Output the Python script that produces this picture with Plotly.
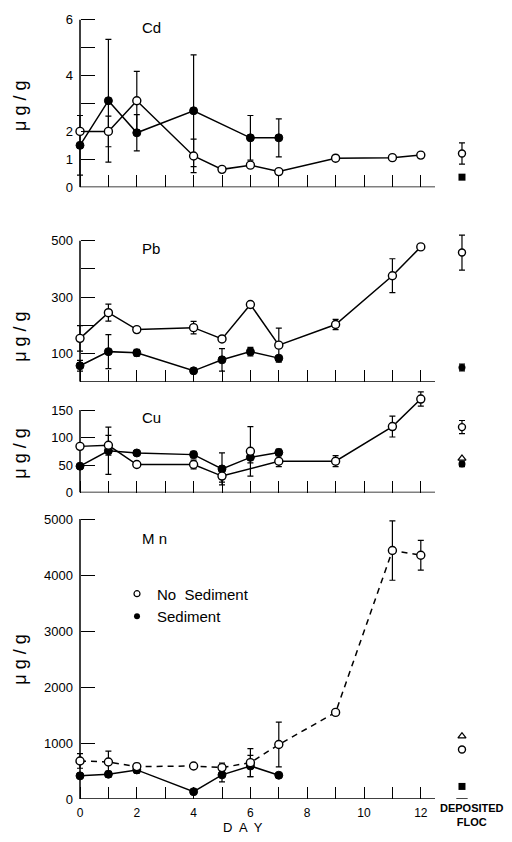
import plotly.graph_objects as go

# ---------------- data ----------------
days_open = [0, 1, 2, 4, 5, 6, 7, 9, 11, 12]
days_sed = [0, 1, 2, 4, 5, 6, 7]
days_sed_cd = [0, 1, 2, 4, 6, 7]

cd_open = [2.0, 2.0, 3.1, 1.12, 0.64, 0.79, 0.56, 1.04, 1.06, 1.15]
cd_open_err = [0, 0.55, 1.05, 0.6, 0, 0, 0, 0, 0, 0]
cd_sed = [1.5, 3.1, 1.95, 2.74, 1.77, 1.77]
cd_sed_err = [1.07, 2.2, 0.65, 2.0, 0.8, 0.68]

pb_open = [154, 245, 185, 192, 152, 274, 130, 203, 376, 478]
pb_open_err = [45, 30, 0, 22, 0, 8, 60, 18, 60, 0]
pb_sed = [57, 107, 103, 39, 78, 107, 84]
pb_sed_err = [19, 60, 12, 0, 40, 15, 8]

cu_open = [84, 86, 51, 51, 30, 75, 57, 57, 120, 170]
cu_open_err = [0, 18, 0, 8, 11, 45, 10, 10, 19, 13]
cu_sed = [48, 76, 72, 69, 43, 64, 73]
cu_sed_err = [0, 43, 0, 6, 29, 10, 6]

mn_open = [680, 662, 579, 590, 561, 650, 973, 1547, 4437, 4354]
mn_open_err = [130, 195, 60, 40, 80, 250, 400, 0, 530, 265]
mn_sed = [414, 443, 520, 131, 432, 590, 425]
mn_sed_err = [40, 50, 60, 0, 125, 190, 0]

# deposited floc values per metal (Cd, Pb, Cu, Mn)
floc_open = [1.21, 458, 119, 885]
floc_open_err = [0.38, 62, 12, 0]
floc_sed = [0.36, 51, 52, 225]
floc_sed_err = [0, 12, 5, 0]
floc_tri = [None, None, 62, 1122]
floc_sed_symbol = ["square", "circle", "circle", "square"]

metals = ["Cd", "Pb", "Cu", "Mn"]
x_ticks = list(range(13))
x_ticktext = ["0", "", "2", "", "4", "", "6", "", "8", "", "10", "", "12"]
y_tickvals = [[0, 1, 2, 3, 4, 5, 6], [0, 100, 200, 300, 400, 500], [0, 50, 100, 150],
              [0, 1000, 2000, 3000, 4000, 5000]]
y_ticktext = [["0", "1", "2", "", "4", "", "6"], ["", "100", "", "300", "", "500"],
              ["0", "50", "100", "150"], ["0", "1000", "2000", "3000", "4000", "5000"]]

# ---------------- layout geometry ----------------
W, H = 512, 842
X0PX, PXDAY = 80.0, 28.4
xr = [-X0PX / PXDAY, (W - X0PX) / PXDAY]
FLOC_X = 13.45
# (pixel of y=0, pixel of top tick, top tick value, range top)
panels = [(189.0, 20.0, 6, 6.3), (385.5, 243.0, 500, 540), (497.3, 414.0, 150, 185),
          (806.7, 524.0, 5000, 5200)]

FONT = "Liberation Sans, Arial, sans-serif"
fig = go.Figure()
shapes = []
annotations = []

series = [
    (days_open, cd_open, cd_open_err, days_sed_cd, cd_sed, cd_sed_err),
    (days_open, pb_open, pb_open_err, days_sed, pb_sed, pb_sed_err),
    (days_open, cu_open, cu_open_err, days_sed, cu_sed, cu_sed_err),
    (days_open, mn_open, mn_open_err, days_sed, mn_sed, mn_sed_err),
]


def eb(arr):
    return dict(type="data", array=arr, visible=True, color="black", thickness=1.2, width=3)


for i, (dox, oy, oe, dsx, sy, se) in enumerate(series):
    k = "" if i == 0 else str(i + 1)
    xa, ya = "x" + k, "y" + k
    open_dash = "6px,5px" if metals[i] == "Mn" else "solid"
    # sediment (filled) series
    fig.add_trace(go.Scatter(
        x=dsx, y=sy, xaxis=xa, yaxis=ya, mode="lines+markers", showlegend=False,
        line=dict(color="black", width=1.5), cliponaxis=False,
        marker=dict(symbol="circle", size=8, color="black", line=dict(color="black", width=1)),
        error_y=eb(se)))
    # no-sediment (open) series
    if metals[i] == "Cu":
        line_y = [None if d == 6 else v for d, v in zip(dox, oy)]
        fig.add_trace(go.Scatter(
            x=dox, y=line_y, xaxis=xa, yaxis=ya, mode="lines", connectgaps=True,
            showlegend=False, line=dict(color="black", width=1.5)))
        fig.add_trace(go.Scatter(
            x=dox, y=oy, xaxis=xa, yaxis=ya, mode="markers", showlegend=False,
            cliponaxis=False,
            marker=dict(symbol="circle", size=8, color="white", line=dict(color="black", width=1.4)),
            error_y=eb(oe)))
    else:
        fig.add_trace(go.Scatter(
            x=dox, y=oy, xaxis=xa, yaxis=ya, mode="lines+markers", showlegend=False,
            line=dict(color="black", width=1.5, dash=open_dash), cliponaxis=False,
            marker=dict(symbol="circle", size=8, color="white", line=dict(color="black", width=1.4)),
            error_y=eb(oe)))
    # deposited floc column
    fig.add_trace(go.Scatter(
        x=[FLOC_X], y=[floc_sed[i]], xaxis=xa, yaxis=ya, mode="markers", showlegend=False,
        cliponaxis=False,
        marker=dict(symbol=floc_sed_symbol[i], size=7, color="black"),
        error_y=eb([floc_sed_err[i]])))
    if floc_tri[i] is not None:
        fig.add_trace(go.Scatter(
            x=[FLOC_X], y=[floc_tri[i]], xaxis=xa, yaxis=ya, mode="markers", showlegend=False,
            cliponaxis=False,
            marker=dict(symbol="triangle-up", size=7, color="white", line=dict(color="black", width=1.3))))
    fig.add_trace(go.Scatter(
        x=[FLOC_X], y=[floc_open[i]], xaxis=xa, yaxis=ya, mode="markers", showlegend=False,
        cliponaxis=False,
        marker=dict(symbol="circle", size=7, color="white", line=dict(color="black", width=1.4)),
        error_y=eb([floc_open_err[i]])))

    p0, ptop, vtop, rtop = panels[i]
    pxu = (p0 - ptop) / vtop
    dom_top_px = p0 - rtop * pxu
    dom = [1 - p0 / H, 1 - dom_top_px / H]
    fig.layout["xaxis" + k] = dict(
        domain=[0, 1], range=xr, anchor=ya, showline=False, showgrid=False, zeroline=False,
        ticks="inside", tickvals=x_ticks, ticklen=12, tickwidth=1.3, tickcolor="black",
        showticklabels=(i == 3), ticktext=x_ticktext, ticklabelstandoff=5,
        tickfont=dict(family=FONT, size=12, color="black"))
    fig.layout["yaxis" + k] = dict(
        domain=dom, range=[0, rtop], anchor="free", position=X0PX / W, showline=False,
        showgrid=False, zeroline=False, ticks="inside", tickvals=y_tickvals[i],
        ticktext=y_ticktext[i], ticklen=14, tickwidth=1.3, tickcolor="black",
        ticklabelstandoff=7, tickfont=dict(family=FONT, size=13, color="black"))
    shapes.append(dict(type="line", xref=xa, yref=ya, x0=0, x1=12.5, y0=0, y1=0,
                       line=dict(color="black", width=1.5), layer="below"))
    shapes.append(dict(type="line", xref=xa, yref=ya, x0=0, x1=0, y0=0, y1=vtop,
                       line=dict(color="black", width=1.5), layer="below"))
    # metal label
    annotations.append(dict(text=("M n" if metals[i] == "Mn" else metals[i]), xref="paper", yref="paper",
                            x=140 / W, y=1 - (ptop + 8 + (12 if metals[i] == "Mn" else 0)) / H,
                            xanchor="left", yanchor="middle", showarrow=False,
                            font=dict(family=FONT, size=15, color="black")))

# y-axis titles
for yc in [107, 340, 458, 666]:
    annotations.append(dict(text="μ g / g", xref="paper", yref="paper", x=20 / W, y=1 - yc / H,
                            textangle=-90, showarrow=False, xanchor="center", yanchor="middle",
                            font=dict(family=FONT, size=18, color="black")))

annotations.append(dict(text="D  A  Y", xref="paper", yref="paper", x=243 / W, y=1 - 835 / H,
                        showarrow=False, xanchor="center", yanchor="middle",
                        font=dict(family=FONT, size=13, color="black")))
annotations.append(dict(text="<b>DEPOSITED<br>FLOC</b>", xref="paper", yref="paper", x=472 / W,
                        y=1 - 823 / H, showarrow=False, xanchor="center", yanchor="middle",
                        font=dict(family=FONT, size=11, color="black")))
shapes.append(dict(type="line", xref="x4", yref="y4", x0=FLOC_X - 0.2, x1=FLOC_X + 0.2, y0=0, y1=0,
                   line=dict(color="black", width=1.5)))

# legend entries
fig.add_trace(go.Scatter(x=[None], y=[None], mode="markers", name="No  Sediment",
                         marker=dict(symbol="circle", size=6, color="white",
                                     line=dict(color="black", width=1.2))))
fig.add_trace(go.Scatter(x=[None], y=[None], mode="markers", name="Sediment",
                         marker=dict(symbol="circle", size=6, color="black")))

fig.update_layout(
    width=W, height=H, margin=dict(l=0, r=0, t=0, b=0),
    paper_bgcolor="white", plot_bgcolor="white",
    shapes=shapes, annotations=annotations,
    showlegend=True,
    legend=dict(x=117 / W, y=1 - 583 / H, xanchor="left", yanchor="top",
                bgcolor="rgba(0,0,0,0)", font=dict(family=FONT, size=15, color="black"),
                itemwidth=30, tracegroupgap=0),
)

fig.write_html("out.html")
